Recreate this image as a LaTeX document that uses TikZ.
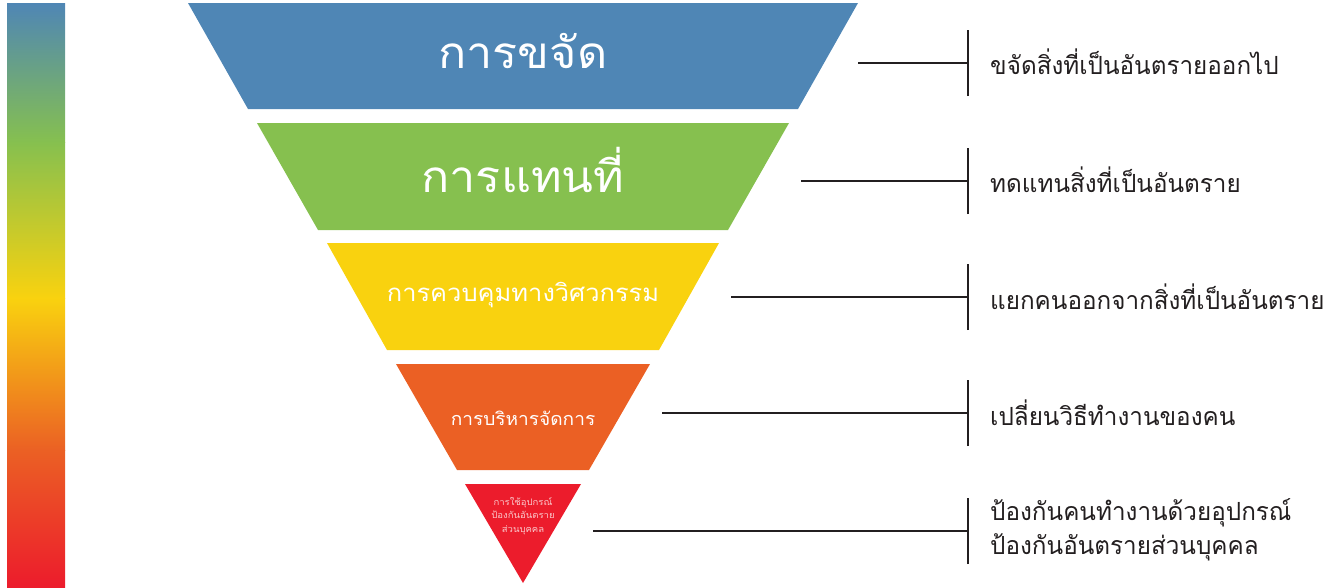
\documentclass[tikz,border=0pt]{standalone}
\usepackage{fontspec}
\newfontfamily\thaiT[Script=Thai,FakeStretch=1.06]{Loma}
\newfontfamily\thaiD[Script=Thai,FakeStretch=0.97]{Loma}
\definecolor{cblue}{HTML}{4F86B5}
\definecolor{cgreen}{HTML}{86C04F}
\definecolor{cyellow}{HTML}{F9D20F}
\definecolor{corange}{HTML}{EB6024}
\definecolor{cred}{HTML}{EC1C2C}
\definecolor{cline}{HTML}{231F20}
\tikzset{
  title/.style={text=white,inner sep=0pt,align=center},
  desc/.style={text=cline,font=\thaiD\fontsize{25}{34}\selectfont,anchor=west,inner sep=0pt,align=left},
  conn/.style={draw=cline,line width=2.6pt},
  bar/.style={draw=cline,line width=2pt}
}
\begin{document}
\begin{tikzpicture}[x=1pt,y=-1pt]
\useasboundingbox (0,0) rectangle (1337,587);
% gradient scale
\shade[top color=cblue,bottom color=cgreen] (7,3) rectangle (65,142.5);
\shade[top color=cgreen,bottom color=cyellow] (7,142) rectangle (65,298.5);
\shade[top color=cyellow,bottom color=corange] (7,298) rectangle (65,450.5);
\shade[top color=corange,bottom color=cred] (7,450) rectangle (65,587);
% funnel bands
\fill[cblue] (188,3) -- (858,3) -- (798,109) -- (248,109) -- cycle;
\fill[cgreen] (257,123) -- (789,123) -- (728,230) -- (318,230) -- cycle;
\fill[cyellow] (327,243) -- (719,243) -- (659,350) -- (387,350) -- cycle;
\fill[corange] (396,364) -- (650,364) -- (589,470) -- (457,470) -- cycle;
\fill[cred] (465,484) -- (581,484) -- (523,583) -- cycle;
% titles
\node[title,font=\thaiT\fontsize{44}{50}\selectfont] (t1) at (523,51) {การขจัด};
\node[title,font=\thaiT\fontsize{44}{50}\selectfont] (t2) at (523,170) {การแทนที่};
\node[title,font=\thaiT\fontsize{24}{30}\selectfont] (t3) at (523,295) {การควบคุมทางวิศวกรรม};
\node[title,font=\thaiT\fontsize{18}{24}\selectfont] (t4) at (523,418) {การบริหารจัดการ};
\node[title,font=\thaiT\fontsize{9}{13.5}\selectfont,text=white!75!cred] (t5) at (523,516) {การใช้อุปกรณ์\\ป้องกันอันตราย\\ส่วนบุคคล};
% connectors
\coordinate (s1) at (858,63);  \coordinate (b1) at (968,63);
\coordinate (s2) at (801,181); \coordinate (b2) at (968,181);
\coordinate (s3) at (731,297); \coordinate (b3) at (968,297);
\coordinate (s4) at (662,413); \coordinate (b4) at (968,413);
\coordinate (s5) at (593,531); \coordinate (b5) at (968,531);
\foreach \i in {1,...,5}{
  \draw[conn] (s\i) -- (b\i);
  \draw[bar] ([yshift=-33pt]b\i) -- ([yshift=33pt]b\i);
}
% descriptions
\node[desc] (d1) at (990,62) {ขจัดสิ่งที่เป็นอันตรายออกไป};
\node[desc] (d2) at (990,180) {ทดแทนสิ่งที่เป็นอันตราย};
\node[desc] (d3) at (990,297) {แยกคนออกจากสิ่งที่เป็นอันตราย};
\node[desc] (d4) at (990,413) {เปลี่ยนวิธีทำงานของคน};
\node[desc] (d5) at (990,530) {ป้องกันคนทำงานด้วยอุปกรณ์\\ป้องกันอันตรายส่วนบุคคล};
\end{tikzpicture}
\end{document}
